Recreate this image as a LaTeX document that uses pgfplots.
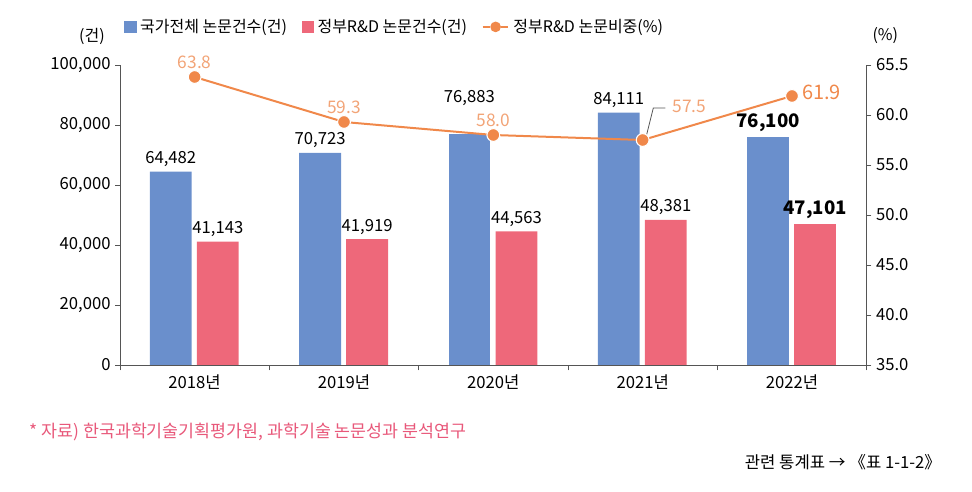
\documentclass[border=0pt]{standalone}
\usepackage{fontspec}
\setmainfont{Noto Sans CJK KR}
\usepackage{pgfplots}
\pgfplotsset{compat=1.18}

\definecolor{cblue}{HTML}{6A8FCC}
\definecolor{cred}{HTML}{EE687A}
\definecolor{corange}{HTML}{F0884A}
\definecolor{clabel}{HTML}{F2A477}
\definecolor{cpink}{HTML}{E8587A}
\definecolor{caxis}{HTML}{555555}

\tikzset{
  pct/.style={/pgf/number format/fixed, /pgf/number format/fixed zerofill,
    /pgf/number format/precision=1},
  cnt/.style={/pgf/number format/fixed, /pgf/number format/1000 sep={,}},
}
\pgfplotsset{
  base/.style={
    scale only axis,
    width=560pt, height=225pt,
    at={(90pt,95.25pt)}, anchor=south west,
    xmin=-0.5, xmax=4.5,
    axis line style={caxis, line width=0.7pt},
    tick style={caxis, line width=0.7pt},
    tick align=outside,
    major tick length=3.5pt,
    tick label style={font=\fontsize{12.5}{14}\selectfont},
    /pgf/number format/assume math mode=true,
  },
}

\begin{document}
\begin{tikzpicture}
\path[use as bounding box] (0,0) rectangle (729pt,369pt);

% bars: left axis
\begin{axis}[base,
    axis y line*=left, axis x line*=bottom,
    ymin=0, ymax=100000,
    ytick={0,20000,...,100000},
    scaled y ticks=false,
    yticklabel style={cnt},
    xtick={0,1,2,3,4},
    xticklabels={2018년,2019년,2020년,2021년,2022년},
    major x tick style={draw=none},
    minor xtick={-0.5,0.5,...,4.5},
    minor tick length=4pt,
    ybar, bar width=0.28,
    nodes near coords,
    nodes near coords style={font=\fontsize{12.5}{14}\selectfont, black, cnt},
  ]
\addplot[fill=cblue, draw=none, bar shift=-0.16] coordinates {(0,64482) (1,70723) (3,84111)};
\addplot[fill=cblue, draw=none, bar shift=-0.16,
  nodes near coords style={yshift=18pt}] coordinates {(2,76883)};
\addplot[fill=cblue, draw=none, bar shift=-0.16,
  nodes near coords style={font=\fontsize{14}{16}\selectfont\bfseries}] coordinates {(4,76100)};
\addplot[fill=cred, draw=none, bar shift=0.155] coordinates {(0,41143) (1,41919) (2,44563) (3,48381)};
\addplot[fill=cred, draw=none, bar shift=0.155,
  nodes near coords style={font=\fontsize{14}{16}\selectfont\bfseries}] coordinates {(4,47101)};
\end{axis}

% line: right axis
\begin{axis}[base,
    axis y line*=right, axis x line=none,
    ymin=35, ymax=65,
    ytick={35,40,...,65},
    yticklabels={35.0,40.0,45.0,50.0,55.0,60.0,65.5},
    legend columns=3,
    legend style={at={(0,1.127)}, anchor=west, draw=none, fill=none,
      font=\fontsize{12}{14}\selectfont,
      /tikz/every odd column/.append style={column sep=1pt},
      /tikz/every even column/.append style={column sep=9pt}},
    legend cell align=left,
  ]
\addlegendimage{legend image code/.code={\fill[cblue] (0pt,-4pt) rectangle (8.5pt,4.5pt);}}
\addlegendentry{국가전체 논문건수(건)}
\addlegendimage{legend image code/.code={\fill[cred] (0pt,-4pt) rectangle (8.5pt,4.5pt);}}
\addlegendentry{정부R\&D 논문건수(건)}
\addplot[corange, line width=1.5pt, mark=*,
  mark options={fill=corange, draw=white, line width=0.8pt, mark size=4.8pt},
  legend image code/.code={
    \draw[corange, line width=1.5pt] (0.1cm,0cm) -- (0.3cm,0cm);
    \draw[corange, line width=1.5pt] (0.58cm,0cm) -- (0.78cm,0cm);
    \fill[corange] (0.44cm,0cm) circle (3.2pt);}]
  coordinates {(0,63.8) (1,59.3) (2,58.0) (3,57.5) (4,61.9)};
\addlegendentry{정부R\&D 논문비중(\%)}

\addplot[draw=none, forget plot, nodes near coords,
  nodes near coords style={font=\fontsize{13}{15}\selectfont, clabel, yshift=3pt, pct}]
  coordinates {(0,63.8) (1,59.3) (2,58.0)};
\addplot[draw=none, forget plot, nodes near coords,
  nodes near coords align={anchor=west},
  nodes near coords style={font=\fontsize{13}{15}\selectfont, clabel,
    xshift=19pt, yshift=25pt, pct}]
  coordinates {(3,57.5)};
\addplot[draw=none, forget plot, nodes near coords,
  nodes near coords align={anchor=west},
  nodes near coords style={font=\fontsize{15}{17}\selectfont, corange,
    xshift=4pt, yshift=3pt, pct}]
  coordinates {(4,61.9)};
\draw[caxis, line width=0.6pt] ([xshift=3pt,yshift=4pt]axis cs:3,57.5)
  -- ([xshift=8pt,yshift=24pt]axis cs:3,57.5) -- ([xshift=17pt,yshift=24pt]axis cs:3,57.5);
\end{axis}

\node[font=\fontsize{12}{14}\selectfont] at (69pt,342pt) {(건)};
\node[font=\fontsize{12}{14}\selectfont] at (664pt,342pt) {(\%)};
\node[anchor=west, inner sep=0pt, cpink, font=\fontsize{13}{15}\selectfont] at (22pt,45pt)
  {* 자료) 한국과학기술기획평가원, 과학기술 논문성과 분석연구};
\node[anchor=east, inner sep=0pt, font=\fontsize{12.5}{14}\selectfont] at (706pt,22.5pt)
  {관련 통계표 → 《표 1-1-2》};
\end{tikzpicture}
\end{document}
